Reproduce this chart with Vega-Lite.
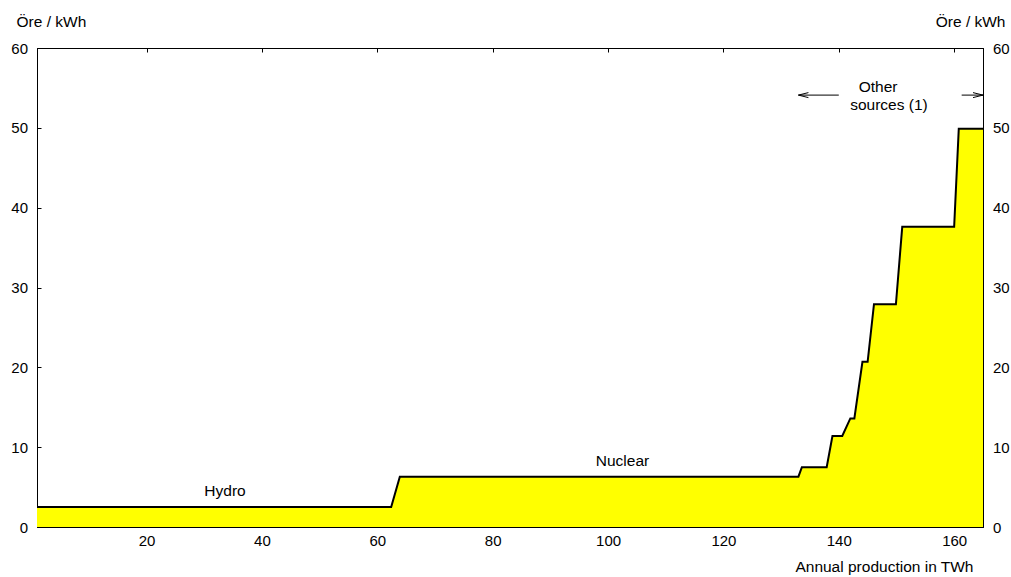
{
  "$schema": "https://vega.github.io/schema/vega-lite/v6.json",
  "width": 946,
  "height": 479,
  "autosize": {"type": "none"},
  "padding": {"left": 37, "top": 48, "right": 28, "bottom": 50},
  "background": "white",
  "config": {
    "view": {"stroke": "black", "strokeWidth": 1},
    "font": "Liberation Sans",
    "axis": {
      "grid": false,
      "domainColor": "black",
      "domainWidth": 1,
      "tickColor": "black",
      "tickWidth": 1,
      "labelColor": "black",
      "titleColor": "black",
      "labelFont": "Liberation Sans",
      "titleFont": "Liberation Sans",
      "labelFontSize": 15,
      "titleFontSize": 15.5,
      "titleFontWeight": "normal"
    }
  },
  "datasets": {
    "steps": [
      {"twh": 1, "ore": 2.5},
      {"twh": 62.4, "ore": 2.5},
      {"twh": 63.9, "ore": 6.3},
      {"twh": 133.0, "ore": 6.3},
      {"twh": 133.6, "ore": 7.5},
      {"twh": 137.9, "ore": 7.5},
      {"twh": 138.9, "ore": 11.4},
      {"twh": 140.6, "ore": 11.4},
      {"twh": 142.0, "ore": 13.6},
      {"twh": 142.7, "ore": 13.6},
      {"twh": 144.1, "ore": 20.7},
      {"twh": 145.0, "ore": 20.7},
      {"twh": 146.1, "ore": 27.9},
      {"twh": 149.9, "ore": 27.9},
      {"twh": 151.0, "ore": 37.6},
      {"twh": 160.0, "ore": 37.6},
      {"twh": 160.8, "ore": 49.9},
      {"twh": 165, "ore": 49.9}
    ],
    "arrows": [
      {"from": 140.0, "to": 133.0, "ore": 54.1, "dir": "L"},
      {"from": 161.3, "to": 165.0, "ore": 54.1, "dir": "R"}
    ],
    "labels": [
      {"twh": 33.6, "ore": 3.9, "text": "Hydro"},
      {"twh": 102.5, "ore": 7.6, "text": "Nuclear"},
      {"twh": 146.8, "ore": 54.5, "text": "Other"},
      {"twh": 148.7, "ore": 52.2, "text": "sources (1)"}
    ]
  },
  "resolve": {"axis": {"x": "independent", "y": "independent"}},
  "layer": [
    {
      "data": {"name": "steps"},
      "mark": {"type": "area", "color": "#ffff00", "opacity": 1, "line": {"color": "black", "strokeWidth": 2}},
      "encoding": {
        "x": {
          "field": "twh", "type": "quantitative",
          "scale": {"domain": [1, 165], "nice": false, "zero": false},
          "axis": {
            "orient": "bottom",
            "values": [20, 40, 60, 80, 100, 120, 140, 160],
            "tickSize": -4,
            "labelPadding": 10,
            "labelBaseline": "top",
            "title": "Annual production in TWh",
            "titleAlign": "right",
            "titleAnchor": null,
            "titleBaseline": "alphabetic",
            "titleX": 936,
            "titleY": 44
          }
        },
        "y": {
          "field": "ore", "type": "quantitative",
          "scale": {"domain": [0, 60], "nice": false, "zero": true},
          "axis": {
            "orient": "left",
            "values": [0, 10, 20, 30, 40, 50, 60],
            "tickSize": -4,
            "labelPadding": 13.5,
            "title": "Öre / kWh",
            "titleAngle": 0,
            "titleAlign": "left",
            "titleAnchor": null,
            "titleBaseline": "alphabetic",
            "titleX": -21,
            "titleY": -22
          }
        }
      }
    },
    {
      "data": {"name": "arrows"},
      "mark": {"type": "rule", "color": "black", "strokeWidth": 1},
      "encoding": {
        "x": {
          "field": "from", "type": "quantitative",
          "scale": {"domain": [1, 165], "nice": false, "zero": false},
          "axis": {
            "orient": "top",
            "values": [20, 40, 60, 80, 100, 120, 140, 160],
            "tickSize": -4,
            "labels": false,
            "title": null
          }
        },
        "x2": {"field": "to"},
        "y": {
          "field": "ore", "type": "quantitative",
          "scale": {"domain": [0, 60], "nice": false, "zero": true},
          "axis": {
            "orient": "right",
            "values": [0, 10, 20, 30, 40, 50, 60],
            "tickSize": -4,
            "labelPadding": 13.5,
            "title": "Öre / kWh",
            "titleAngle": 0,
            "titleAlign": "right",
            "titleAnchor": null,
            "titleBaseline": "alphabetic",
            "titleX": 22,
            "titleY": -22
          }
        }
      }
    },
    {
      "data": {"name": "arrows"},
      "mark": {"type": "point", "filled": false, "color": "black", "strokeWidth": 1, "size": 100, "opacity": 1},
      "encoding": {
        "x": {"field": "to", "type": "quantitative", "scale": {"domain": [1, 165], "nice": false, "zero": false}, "axis": null},
        "y": {"field": "ore", "type": "quantitative", "scale": {"domain": [0, 60], "nice": false, "zero": true}, "axis": null},
        "shape": {
          "field": "dir", "type": "nominal",
          "scale": {"domain": ["L", "R"], "range": ["M 0 0 L 2 -0.5 M 0 0 L 2 0.5", "M 0 0 L -2 -0.5 M 0 0 L -2 0.5"]},
          "legend": null
        }
      }
    },
    {
      "data": {"name": "labels"},
      "mark": {"type": "text", "font": "Liberation Sans", "fontSize": 15.5, "color": "black", "align": "center", "baseline": "alphabetic"},
      "encoding": {
        "x": {"field": "twh", "type": "quantitative", "scale": {"domain": [1, 165], "nice": false, "zero": false}, "axis": null},
        "y": {"field": "ore", "type": "quantitative", "scale": {"domain": [0, 60], "nice": false, "zero": true}, "axis": null},
        "text": {"field": "text"}
      }
    }
  ]
}
